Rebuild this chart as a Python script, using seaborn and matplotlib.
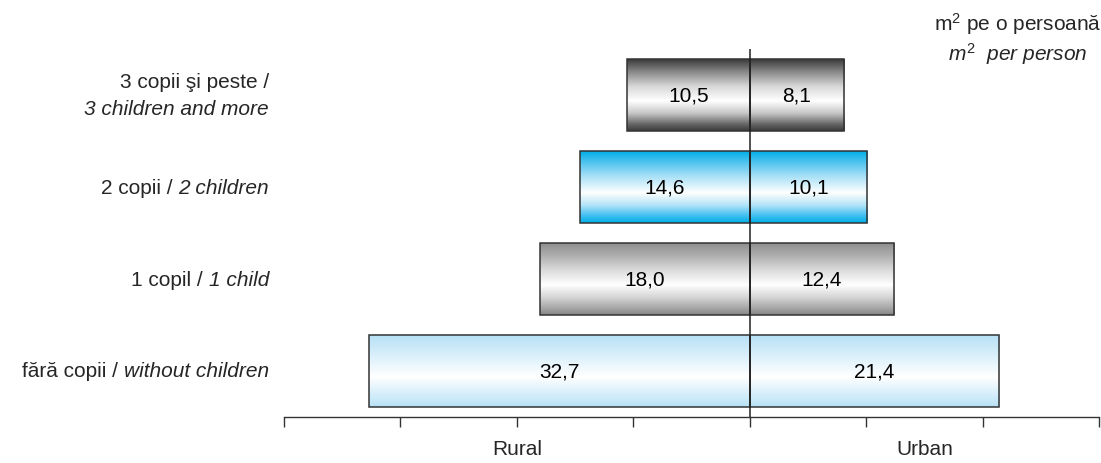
import numpy as np
import pandas as pd
import matplotlib
matplotlib.use("Agg")
import matplotlib.pyplot as plt
import matplotlib.transforms as mtransforms
from matplotlib.colors import LinearSegmentedColormap
import seaborn as sns

# ---- data ----
labels_ro = ["3 copii şi peste /", "2 copii /", "1 copil /", "fără copii /"]
labels_en = ["3 children and more", "2 children", "1 child", "without children"]
rural = [10.5, 14.6, 18.0, 32.7]
urban = [8.1, 10.1, 12.4, 21.4]
side_labels = ["Rural", "Urban"]
unit_ro = "m$^2$ pe o persoană"
unit_en = "$\\mathit{m}^{2}$  per person"

categories = [f"{a} {b}" for a, b in zip(labels_ro, labels_en)]

# gradient stops per row (edge, middle, edge)
grad_colors = [
    ["#3a3a3a", "#8a8a8a", "#d8d8d8", "#ffffff", "#c8c8c8", "#6a6a6a", "#3a3a3a"],
    ["#00aee8", "#5cc8f0", "#b4e4f8", "#ffffff", "#b4e4f8", "#40bff0", "#00aee8"],
    ["#8e8e8e", "#b0b0b0", "#dcdcdc", "#ffffff", "#d6d6d6", "#a8a8a8", "#858585"],
    ["#b6e0f6", "#cdeaf9", "#e6f5fc", "#ffffff", "#e2f3fc", "#c9e9f9", "#b6e0f6"],
]
grad_pos = [0.0, 0.18, 0.38, 0.58, 0.75, 0.9, 1.0]

sns.set_theme(style="white")
plt.rcParams["font.family"] = ["Liberation Sans", "DejaVu Sans"]
plt.rcParams["mathtext.fontset"] = "custom"
plt.rcParams["mathtext.rm"] = "Liberation Sans"
plt.rcParams["mathtext.it"] = "Liberation Sans:italic"
plt.rcParams["mathtext.bf"] = "Liberation Sans:bold"

FS = 15

df = pd.DataFrame({
    "cat": categories * 2,
    "side": ["Rural"] * 4 + ["Urban"] * 4,
    "value": [-v for v in rural] + urban,
})

fig = plt.figure(figsize=(11.01, 4.64), dpi=100)
W, H = 1101, 464
ax = fig.add_axes([284 / W, 1 - 418 / H, (1099 - 284) / W, (418 - 50) / H])

sns.barplot(data=df, y="cat", x="value", hue="side", dodge=False,
            orient="h", width=0.78, ax=ax, legend=False,
            palette=["#cccccc", "#cccccc"], order=categories)

patches = list(ax.patches)
for p in patches:
    x0 = p.get_x()
    x1 = x0 + p.get_width()
    y0 = p.get_y()
    y1 = y0 + p.get_height()
    row = int(round((y0 + y1) / 2))
    cmap = LinearSegmentedColormap.from_list(
        "g%d" % row, list(zip(grad_pos, grad_colors[row])))
    grad = np.linspace(0, 1, 256).reshape(-1, 1)
    im = ax.imshow(grad, cmap=cmap, aspect="auto", origin="upper",
                   extent=(min(x0, x1), max(x0, x1), y1, y0),
                   zorder=2, interpolation="bilinear")
    im.set_clip_path(p)
    p.set_facecolor("none")
    p.set_edgecolor("#333333")
    p.set_linewidth(1.1)
    p.set_zorder(3)

# value labels
for i, (r, u) in enumerate(zip(rural, urban)):
    ax.text(-r / 2, i, f"{r:.1f}".replace(".", ","), ha="center", va="center",
            fontsize=FS, color="black", zorder=5)
    ax.text(u / 2, i, f"{u:.1f}".replace(".", ","), ha="center", va="center",
            fontsize=FS, color="black", zorder=5)

ax.axvline(0, color="#222222", lw=1.1, zorder=4)

ax.set_xlim(-40, 30)
ax.set_ylim(3.5, -0.5)
ax.set_xticks(np.arange(-40, 31, 10))
ax.set_xticklabels([])
ax.tick_params(axis="x", direction="out", length=7, width=1, color="#333333", bottom=True)
ax.set_yticks(range(len(categories)))
ax.set_yticklabels([])
ax.tick_params(axis="y", length=0)
ax.set_xlabel("")
ax.set_ylabel("")
for s in ["top", "left", "right"]:
    ax.spines[s].set_visible(False)
ax.spines["bottom"].set_color("#333333")
ax.spines["bottom"].set_linewidth(1)

# category labels: roman part + italic part
ytrans = mtransforms.blended_transform_factory(ax.transAxes, ax.transData)
xr = (269 - 284) / ((1099 - 284))
renderer = fig.canvas.get_renderer()
space_px = 0.278 * FS * 100 / 72
line_off = 0.15  # in data units (row spacing = 1)
for i, (ro, en) in enumerate(zip(labels_ro, labels_en)):
    if i == 0:
        ax.text(xr, i - line_off, ro, transform=ytrans, ha="right", va="center", fontsize=FS)
        ax.text(xr, i + line_off, en, transform=ytrans, ha="right", va="center",
                fontsize=FS, style="italic")
    else:
        t = ax.text(xr, i, en, transform=ytrans, ha="right", va="center",
                    fontsize=FS, style="italic")
        bb = t.get_window_extent(renderer)
        xpix = bb.x0 - space_px
        xa = ax.transAxes.inverted().transform((xpix, 0))[0]
        ax.text(xa, i, ro, transform=ytrans, ha="right", va="center", fontsize=FS)

trans = mtransforms.blended_transform_factory(ax.transData, ax.transAxes)
ax.text(-20, -0.06, side_labels[0], transform=trans, ha="center", va="top", fontsize=FS)
ax.text(15, -0.06, side_labels[1], transform=trans, ha="center", va="top", fontsize=FS)

fig.text(1018 / W, 1 - 24 / H, unit_ro, ha="center", va="center", fontsize=FS)
fig.text(1018 / W, 1 - 54 / H, unit_en, ha="center", va="center", fontsize=FS, style="italic")

fig.savefig("out.png", dpi=100)
